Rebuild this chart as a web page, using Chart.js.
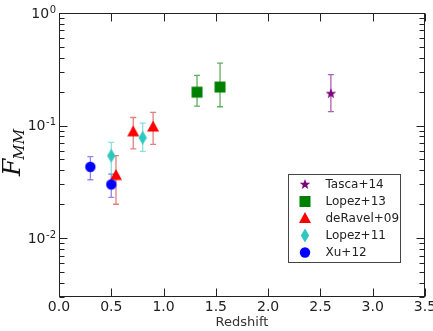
<!DOCTYPE html>
<html><head><meta charset="utf-8">
<script src="https://cdn.jsdelivr.net/npm/chart.js@4"></script>
<style>html,body{margin:0;padding:0;background:#fff}canvas{display:block}</style>
</head><body>
<canvas id="c" width="433" height="331"></canvas>
<script>
// ---- data ----
const legendNames = ['Tasca+14', 'Lopez+13', 'deRavel+09', 'Lopez+11', 'Xu+12'];

const tascaX = [2.60];
const tascaY = [0.192];
const tascaLo = [0.133];
const tascaHi = [0.283];

const lopez13X = [1.32, 1.54];
const lopez13Y = [0.198, 0.220];
const lopez13Lo = [0.149, 0.147];
const lopez13Hi = [0.279, 0.358];

const deravelX = [0.545, 0.71, 0.90];
const deravelY = [0.036, 0.088, 0.097];
const deravelLo = [0.020, 0.062, 0.068];
const deravelHi = [0.054, 0.118, 0.131];

const lopez11X = [0.50, 0.80];
const lopez11Y = [0.054, 0.078];
const lopez11Lo = [0.037, 0.059];
const lopez11Hi = [0.071, 0.105];

const xuX = [0.30, 0.50];
const xuY = [0.043, 0.030];
const xuLo = [0.033, 0.023];
const xuHi = [0.053, 0.037];

const xTickValues = [0, 0.5, 1.0, 1.5, 2.0, 2.5, 3.0, 3.5];
const xTickLabels = ['0.0', '0.5', '1.0', '1.5', '2.0', '2.5', '3.0', '3.5'];
const yMajorValues = [1, 0.1, 0.01];
const yMajorExponents = ['0', '-1', '-2'];
const yMinorValues = [0.003,0.004,0.005,0.006,0.007,0.008,0.009,
                      0.02,0.03,0.04,0.05,0.06,0.07,0.08,0.09,
                      0.2,0.3,0.4,0.5,0.6,0.7,0.8,0.9];

// ---- styles ----
const series = [
  {name:'Xu+12', x:xuX, y:xuY, lo:xuLo, hi:xuHi, shape:'circle', color:'#0000ff', err:'rgba(60,60,230,0.6)'},
  {name:'Lopez+11', x:lopez11X, y:lopez11Y, lo:lopez11Lo, hi:lopez11Hi, shape:'diamond', color:'#2ec8c0', err:'rgba(60,200,195,0.6)'},
  {name:'deRavel+09', x:deravelX, y:deravelY, lo:deravelLo, hi:deravelHi, shape:'triangle', color:'#ff0000', err:'rgba(210,60,60,0.65)'},
  {name:'Lopez+13', x:lopez13X, y:lopez13Y, lo:lopez13Lo, hi:lopez13Hi, shape:'square', color:'#008000', err:'rgba(30,140,30,0.7)'},
  {name:'Tasca+14', x:tascaX, y:tascaY, lo:tascaLo, hi:tascaHi, shape:'star', color:'#800080', err:'rgba(140,30,140,0.7)'}
];

function drawShape(ctx, kind, x, y, color){
  ctx.save();
  ctx.fillStyle = color;
  ctx.beginPath();
  if (kind === 'circle') {
    ctx.arc(x, y, 5.2, 0, Math.PI*2);
  } else if (kind === 'square') {
    ctx.rect(x-5.5, y-5.5, 11, 11);
  } else if (kind === 'triangle') {
    ctx.moveTo(x, y-6.5); ctx.lineTo(x+6, y+4.5); ctx.lineTo(x-6, y+4.5); ctx.closePath();
  } else if (kind === 'diamond') {
    ctx.moveTo(x, y-7); ctx.lineTo(x+4.2, y); ctx.lineTo(x, y+7); ctx.lineTo(x-4.2, y); ctx.closePath();
  } else if (kind === 'star') {
    for (let k = 0; k < 10; k++) {
      const r = (k % 2 === 0) ? 5.5 : 2.3;
      const a = -Math.PI/2 + k*Math.PI/5;
      const px = x + r*Math.cos(a), py = y + r*Math.sin(a);
      if (k === 0) ctx.moveTo(px, py); else ctx.lineTo(px, py);
    }
    ctx.closePath();
  }
  ctx.fill();
  ctx.restore();
}

function markerImage(kind, color){
  const cv = document.createElement('canvas');
  cv.width = 16; cv.height = 16;
  drawShape(cv.getContext('2d'), kind, 8, 8, color);
  return cv;
}

const FONT = '"DejaVu Sans", "Liberation Sans", sans-serif';
const TEXT = '#222';

const decorPlugin = {
  id: 'decor',
  beforeDatasetsDraw(chart){
    const ctx = chart.ctx, xs = chart.scales.x, ys = chart.scales.y;
    ctx.save();
    ctx.lineWidth = 1.3;
    series.forEach(s => {
      ctx.strokeStyle = s.err;
      s.x.forEach((xv, i) => {
        const px = xs.getPixelForValue(xv);
        const pt = ys.getPixelForValue(s.hi[i]);
        const pb = ys.getPixelForValue(s.lo[i]);
        ctx.beginPath();
        ctx.moveTo(px, pt); ctx.lineTo(px, pb);
        ctx.moveTo(px-3, pt); ctx.lineTo(px+3, pt);
        ctx.moveTo(px-3, pb); ctx.lineTo(px+3, pb);
        ctx.stroke();
      });
    });
    ctx.restore();
  },
  afterDraw(chart){
    const ctx = chart.ctx, xs = chart.scales.x, ys = chart.scales.y;
    const a = chart.chartArea;
    const L = Math.round(a.left)+0.5, R = Math.round(a.right)-0.5;
    const T = Math.round(a.top)+0.5, B = Math.round(a.bottom)-0.5;
    ctx.save();
    ctx.strokeStyle = '#222';
    ctx.lineWidth = 1;
    ctx.strokeRect(L, T, R-L, B-T);
    // ticks
    ctx.beginPath();
    xTickValues.forEach(v => {
      const px = Math.round(xs.getPixelForValue(v)) + 0.5;
      ctx.moveTo(px, B); ctx.lineTo(px, B-8);
      ctx.moveTo(px, T); ctx.lineTo(px, T+8);
    });
    yMajorValues.forEach(v => {
      const py = Math.round(ys.getPixelForValue(v)) + 0.5;
      ctx.moveTo(L, py); ctx.lineTo(L+8, py);
      ctx.moveTo(R, py); ctx.lineTo(R-8, py);
    });
    yMinorValues.forEach(v => {
      const py = Math.round(ys.getPixelForValue(v)) + 0.5;
      ctx.moveTo(L, py); ctx.lineTo(L+5, py);
      ctx.moveTo(R, py); ctx.lineTo(R-5, py);
    });
    ctx.stroke();
    // x tick labels
    ctx.fillStyle = TEXT;
    ctx.font = '14px ' + FONT;
    ctx.textAlign = 'center';
    ctx.textBaseline = 'middle';
    xTickValues.forEach((v, i) => {
      ctx.fillText(xTickLabels[i], xs.getPixelForValue(v), 307);
    });
    // y tick labels 10^n
    yMajorValues.forEach((v, i) => {
      const py = ys.getPixelForValue(v);
      ctx.font = '10px ' + FONT;
      const ew = ctx.measureText(yMajorExponents[i]).width;
      const right = 56;
      ctx.textAlign = 'right';
      ctx.textBaseline = 'alphabetic';
      ctx.fillText(yMajorExponents[i], right, py - 0.5);
      ctx.font = '14px ' + FONT;
      ctx.textBaseline = 'middle';
      ctx.fillText('10', right - ew - 0.5, py + 1);
    });
    // x axis title
    ctx.font = '13px ' + FONT;
    ctx.fillStyle = '#333';
    ctx.textAlign = 'center';
    ctx.textBaseline = 'middle';
    ctx.fillText('Redshift', (a.left + a.right)/2, 323);
    // y axis title F_MM
    ctx.save();
    ctx.translate(14, 152);
    ctx.rotate(-Math.PI/2);
    ctx.fillStyle = '#111';
    ctx.textBaseline = 'alphabetic';
    ctx.font = 'italic 25px "DejaVu Serif", "Liberation Serif", serif';
    const fw = ctx.measureText('F').width;
    ctx.font = 'italic 15px "DejaVu Serif", "Liberation Serif", serif';
    const mw = ctx.measureText('MM').width;
    const total = fw + mw;
    ctx.textAlign = 'left';
    ctx.font = 'italic 25px "DejaVu Serif", "Liberation Serif", serif';
    ctx.fillText('F', -total/2, 6);
    ctx.font = 'italic 15px "DejaVu Serif", "Liberation Serif", serif';
    ctx.fillText('MM', -total/2 + fw - 1, 10);
    ctx.restore();
    // legend
    const lx = 288.5, ly = 174.5, lw = 112, lh = 88;
    ctx.fillStyle = '#fff';
    ctx.fillRect(lx, ly, lw, lh);
    ctx.strokeStyle = '#444';
    ctx.lineWidth = 1;
    ctx.strokeRect(lx, ly, lw, lh);
    ctx.font = '12px ' + FONT;
    ctx.textAlign = 'left';
    ctx.textBaseline = 'middle';
    legendNames.forEach((nm, i) => {
      const s = series.find(q => q.name === nm);
      const yy = 184.5 + i*17;
      drawShape(ctx, s.shape, 305, yy, s.color);
      ctx.fillStyle = TEXT;
      ctx.fillText(nm, 325.5, yy);
    });
    ctx.restore();
  }
};

const datasets = series.map(s => ({
  label: s.name,
  data: s.x.map((v, i) => ({x: v, y: s.y[i]})),
  pointStyle: markerImage(s.shape, s.color),
  pointRadius: 6,
  pointHoverRadius: 6,
  showLine: false
}));

new Chart(document.getElementById('c'), {
  type: 'scatter',
  data: { datasets },
  options: {
    responsive: false,
    animation: false,
    layout: { padding: { left: 59, top: 13, right: 8, bottom: 34 } },
    plugins: { legend: { display: false }, tooltip: { enabled: false } },
    scales: {
      x: { type: 'linear', min: 0, max: 3.5, display: false },
      y: { type: 'logarithmic', min: 0.003, max: 1, display: false }
    }
  },
  plugins: [decorPlugin]
});
</script>
</body></html>
